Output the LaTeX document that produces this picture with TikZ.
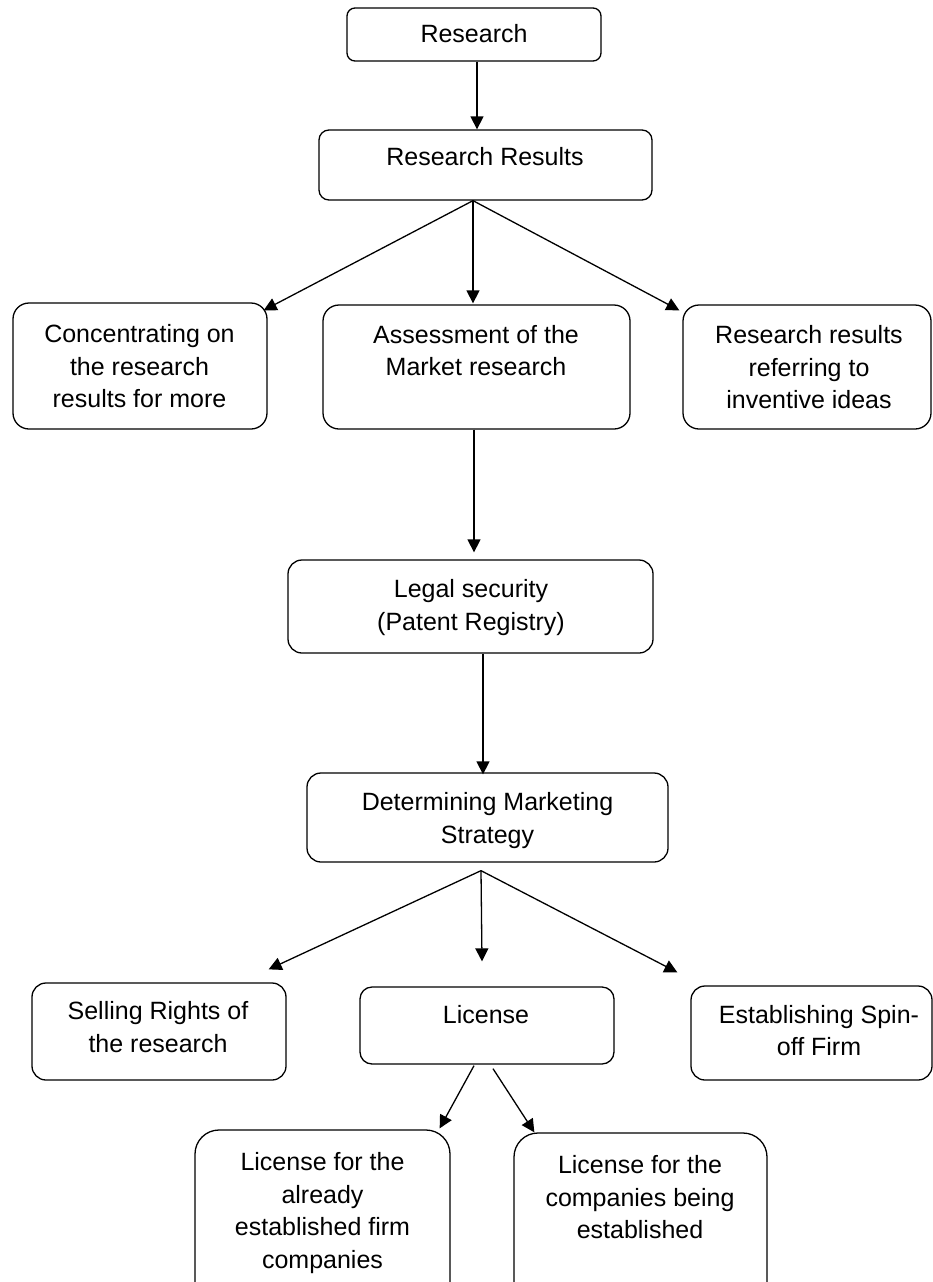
\documentclass[tikz,border=0pt]{standalone}
\usepackage{fontspec}
\setmainfont{Liberation Sans}
\usetikzlibrary{arrows.meta}
\tikzset{
  box/.style={draw, line width=1.3pt, inner sep=0pt, rounded corners=#1},
  box/.default=13pt,
  txt/.style={align=center, inner sep=0pt, font=\fontsize{25}{32.5}\selectfont},
  arr/.style={line width=1.3pt, -{Triangle[length=13pt,width=13pt]}},
}
\begin{document}
\begin{tikzpicture}[x=1pt,y=-1pt]
\clip (0,0) rectangle (933,1282);
\fill[white] (0,0) rectangle (933,1282);
% boxes
\node[box=8pt,  minimum width=254pt, minimum height=53pt]  (research) at (474,34.5) {};
\node[box=10pt, minimum width=333pt, minimum height=70pt]  (results)  at (485.5,165) {};
\node[box=16pt, minimum width=254pt, minimum height=126pt] (conc)     at (140,366) {};
\node[box=16pt, minimum width=307pt, minimum height=124pt] (assess)   at (476.5,367) {};
\node[box=16pt, minimum width=248pt, minimum height=124pt] (refer)    at (807,367) {};
\node[box=14pt, minimum width=365pt, minimum height=93pt]  (legal)    at (470.5,606.5) {};
\node[box=14pt, minimum width=361pt, minimum height=89pt]  (determ)   at (487.5,817.5) {};
\node[box=14pt, minimum width=254pt, minimum height=97pt]  (selling)  at (159,1031.5) {};
\node[box=12pt, minimum width=254pt, minimum height=77pt]  (license)  at (487,1025.5) {};
\node[box=14pt, minimum width=241pt, minimum height=94pt]  (spin)     at (811.5,1033) {};
\node[box=24pt, minimum width=255pt, minimum height=180pt] (already)  at (322.5,1220) {};
\node[box=24pt, minimum width=253pt, minimum height=177pt] (being)    at (640.5,1221.5) {};
% texts
\node[txt] (tresearch) at (474,35.5) {\strut Research\strut};
\node[txt] (tresults)  at (485,159) {\strut Research Results\strut};
\node[txt] (tconc)     at (139.5,368.5) {\strut Concentrating on\\the research\\results for more\strut};
\node[txt] (tassess)   at (476,353) {\strut Assessment of the\\Market research\strut};
\node[txt] (trefer)    at (809,369.5) {\strut Research results\\referring to\\inventive ideas\strut};
\node[txt] (tlegal)    at (471,607.5) {\strut Legal security\\(Patent Registry)\strut};
\node[txt] (tdeterm)   at (487.5,820.5) {\strut Determining Marketing\\Strategy\strut};
\node[txt] (tselling)  at (158,1029.5) {\strut Selling Rights of\\the research\strut};
\node[txt] (tlicense)  at (486,1017) {\strut License\strut};
\node[txt] (tspin)     at (819,1033) {\strut Establishing Spin-\\off Firm\strut};
\node[txt] (talready)  at (322.5,1213) {\strut License for the\\already\\established firm\\companies\strut};
\node[txt] (tbeing)    at (640,1199.5) {\strut License for the\\companies being\\established\strut};
% fan origins
\coordinate (rfan) at ([xshift=-12.5pt]results.south);
\coordinate (dfan) at ([xshift=-6.5pt,yshift=-8pt]determ.south);
% connectors
\draw[arr] ([xshift=3pt]research.south) -- ([xshift=-8.5pt]results.north);
\draw[arr] (rfan) -- ([xshift=-4pt,yshift=-8pt]conc.north east);
\draw[arr] (rfan) -- ([xshift=-3.5pt,yshift=1pt]assess.north);
\draw[arr] (rfan) -- ([xshift=-3pt,yshift=-6pt]refer.north west);
\draw[arr] ([xshift=-2.5pt]assess.south) -- ([xshift=3.5pt,yshift=7pt]legal.north);
\draw[arr] ([xshift=12.5pt]legal.south) -- ([xshift=-4.5pt,yshift=-2pt]determ.north);
\draw[arr] (dfan) -- ([xshift=-18pt,yshift=13pt]selling.north east);
\draw[arr] (dfan) -- ([xshift=-5pt,yshift=25pt]license.north);
\draw[arr] (dfan) -- ([xshift=-13pt,yshift=13pt]spin.north west);
\draw[arr] ([xshift=-13pt,yshift=-1pt]license.south) -- ([xshift=-11pt,yshift=1pt]already.north east);
\draw[arr] ([xshift=6pt,yshift=-4pt]license.south) -- ([xshift=21pt]being.north west);
\end{tikzpicture}
\end{document}
